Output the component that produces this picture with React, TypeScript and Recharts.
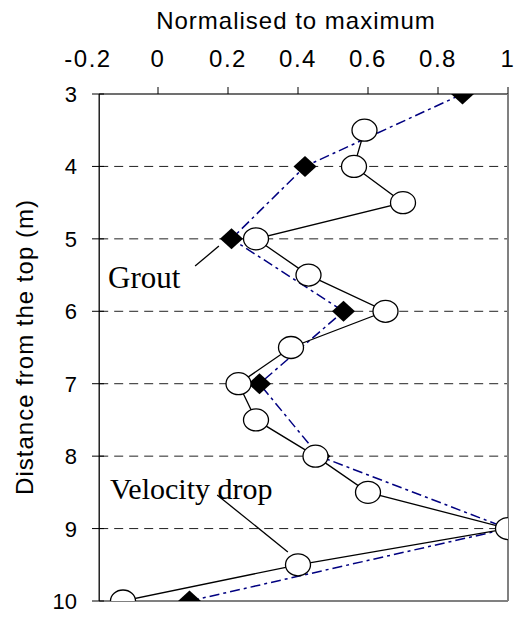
import React from 'react';
import { ScatterChart, Scatter, XAxis, YAxis, ReferenceLine } from 'recharts';

const xTicks = [-0.2, 0, 0.2, 0.4, 0.6, 0.8, 1];
const depthTicks = [3, 4, 5, 6, 7, 8, 9, 10];
const gridDepths = [4, 5, 6, 7, 8, 9];

// open circles (solid black line)
const circleDepth = [3.5, 4, 4.5, 5, 5.5, 6, 6.5, 7, 7.5, 8, 8.5, 9, 9.5, 10];
const circleValue = [0.59, 0.56, 0.7, 0.28, 0.43, 0.65, 0.38, 0.23, 0.28, 0.45, 0.6, 1.0, 0.4, -0.1];

// filled diamonds (blue dash-dot line)
const diamondDepth = [3, 4, 5, 6, 7, 8, 9, 10];
const diamondValue = [0.87, 0.42, 0.21, 0.53, 0.29, 0.46, 1.0, 0.09];

const circleData = circleDepth.map((d, i) => ({ d, v: circleValue[i] }));
const diamondData = diamondDepth.map((d, i) => ({ d, v: diamondValue[i] }));

const FRAME_LEFT = -0.168;
const SANS = '"Liberation Sans", Arial, sans-serif';
const SERIF = '"Liberation Serif", "Times New Roman", serif';

const Ellipse = (p: any) => (
  <ellipse cx={p.cx} cy={p.cy} rx={12.5} ry={11} fill="#fff" stroke="#000" strokeWidth={1.3} />
);

const Diamond = (p: any) => (
  <polygon
    points={`${p.cx - 11.5},${p.cy} ${p.cx},${p.cy - 10.5} ${p.cx + 11.5},${p.cy} ${p.cx},${p.cy + 10.5}`}
    fill="#000"
  />
);

const XTick = (p: any) => {
  const v = p.payload.value;
  return (
    <g>
      {v > -0.2 && <line x1={p.x} x2={p.x} y1={p.y + 27} y2={p.y + 20} stroke="#000" strokeWidth={1} />}
      <text x={p.x} y={p.y} textAnchor="middle" fontFamily={SANS} fontSize={24} letterSpacing={1.5} fill="#000">
        {v}
      </text>
    </g>
  );
};

const YTick = (p: any) => (
  <g>
    <line x1={p.x + 15} x2={p.x + 27} y1={p.y} y2={p.y} stroke="#000" strokeWidth={1} />
    <text x={p.x} y={p.y + 8} textAnchor="end" fontFamily={SANS} fontSize={22} fill="#000">
      {p.payload.value}
    </text>
  </g>
);

export default function App() {
  return (
    <div style={{ position: 'absolute', left: 0, top: 0, width: 524, height: 619, background: '#fff' }}>
      <ScatterChart width={524} height={619} margin={{ top: 54, right: 16, bottom: 18, left: 48 }}>
        <XAxis
          type="number"
          dataKey="v"
          orientation="top"
          domain={[-0.2, 1]}
          ticks={xTicks}
          height={40}
          axisLine={false}
          tickLine={false}
          tickSize={7}
          tickMargin={20}
          tick={<XTick />}
          allowDataOverflow
        />
        <YAxis
          type="number"
          dataKey="d"
          domain={[3, 10]}
          ticks={depthTicks}
          reversed
          width={40}
          axisLine={false}
          tickLine={false}
          tickSize={0}
          tickMargin={11}
          tick={<YTick />}
          allowDataOverflow
        />
        {gridDepths.map((d) => (
          <ReferenceLine
            key={d}
            segment={[{ x: FRAME_LEFT, y: d }, { x: 1, y: d }]}
            stroke="#222"
            strokeDasharray="9 6"
            strokeWidth={1}
          />
        ))}
        <ReferenceLine segment={[{ x: FRAME_LEFT, y: 3 }, { x: 1, y: 3 }]} stroke="#404040" strokeWidth={1.5} />
        <ReferenceLine segment={[{ x: 1, y: 3 }, { x: 1, y: 10 }]} stroke="#808080" strokeWidth={2} />
        <ReferenceLine segment={[{ x: FRAME_LEFT, y: 10 }, { x: 1, y: 10 }]} stroke="#808080" strokeWidth={2} />
        <ReferenceLine segment={[{ x: FRAME_LEFT, y: 3 }, { x: FRAME_LEFT, y: 10 }]} stroke="#000" strokeWidth={1.3} />
        {/* annotation pointers */}
        <ReferenceLine segment={[{ x: 0.106, y: 5.375 }, { x: 0.174, y: 5.1 }]} stroke="#000" strokeWidth={1.3} />
        <ReferenceLine segment={[{ x: 0.169, y: 8.536 }, { x: 0.371, y: 9.323 }]} stroke="#000" strokeWidth={1.3} />
        <Scatter
          data={diamondData}
          line={{ stroke: '#000080', strokeWidth: 1.5, strokeDasharray: '10 4 3 4' }}
          shape={Diamond}
          isAnimationActive={false}
        />
        <Scatter
          data={circleData}
          line={{ stroke: '#000', strokeWidth: 1.3 }}
          shape={Ellipse}
          isAnimationActive={false}
        />
      </ScatterChart>
      <svg width={524} height={619} style={{ position: 'absolute', left: 0, top: 0, pointerEvents: 'none' }}>
        <text x={296} y={29} textAnchor="middle" fontFamily={SANS} fontSize={24} letterSpacing={1} fill="#000">
          Normalised to maximum
        </text>
        <text
          x={33}
          y={347}
          transform="rotate(-90 33 347)"
          textAnchor="middle"
          fontFamily={SANS}
          fontSize={24}
          letterSpacing={1}
          fill="#000"
        >
          Distance from the top (m)
        </text>
        <text x={108} y={288} fontFamily={SERIF} fontSize={31} fill="#000">Grout</text>
        <text x={110} y={499} fontFamily={SERIF} fontSize={30} fill="#000">Velocity drop</text>
      </svg>
    </div>
  );
}
